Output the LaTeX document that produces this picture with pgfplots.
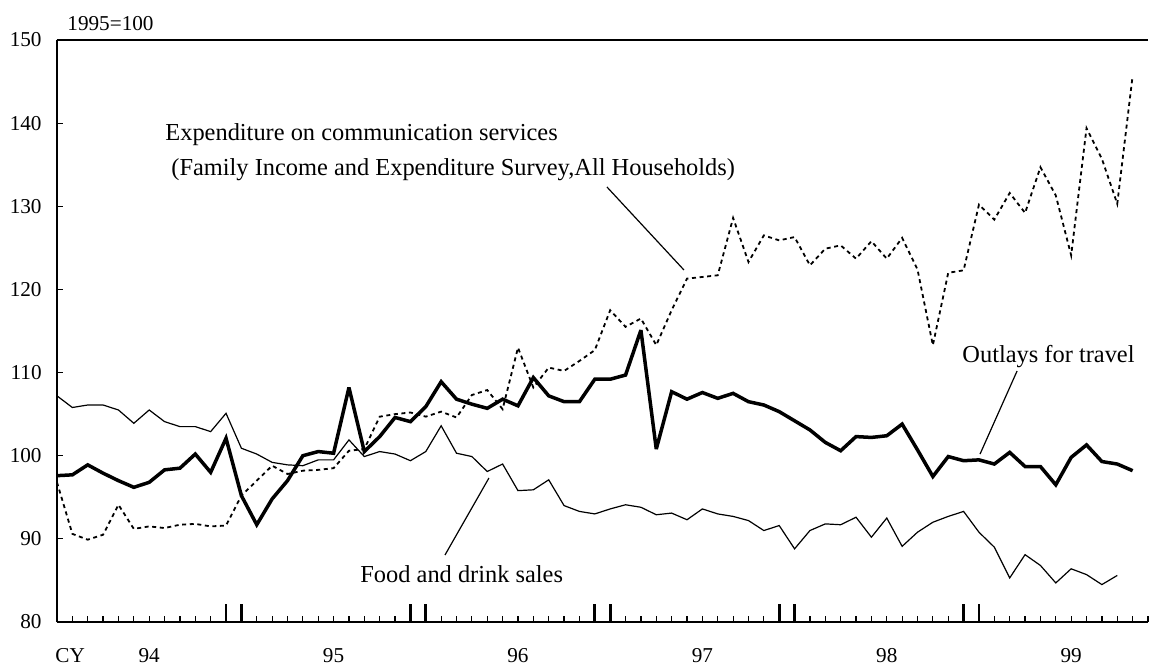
\documentclass[border=0pt]{standalone}
\usepackage{fontspec}
\setmainfont{Liberation Serif}
\usepackage{pgfplots}
\usepackage{pgfplotstable}
\pgfplotsset{compat=1.18}

\pgfplotstableread{
m v
0 97.6
1 97.7
2 98.9
3 97.9
4 97.0
5 96.2
6 96.8
7 98.3
8 98.5
9 100.2
10 98.0
11 102.1
12 95.2
13 91.7
14 94.8
15 97.0
16 100.0
17 100.5
18 100.3
19 108.2
20 100.5
21 102.3
22 104.6
23 104.1
24 105.9
25 108.9
26 106.8
27 106.2
28 105.7
29 106.8
30 106.0
31 109.4
32 107.2
33 106.5
34 106.5
35 109.2
36 109.2
37 109.7
38 115.1
39 100.8
40 107.7
41 106.8
42 107.6
43 106.9
44 107.5
45 106.5
46 106.1
47 105.3
48 104.2
49 103.1
50 101.6
51 100.6
52 102.3
53 102.2
54 102.4
55 103.8
56 100.7
57 97.5
58 99.9
59 99.4
60 99.5
61 99.0
62 100.4
63 98.7
64 98.7
65 96.5
66 99.8
67 101.3
68 99.3
69 99.0
70 98.2
}\travel

\pgfplotstableread{
m v
0 107.2
1 105.8
2 106.1
3 106.1
4 105.5
5 103.9
6 105.5
7 104.1
8 103.5
9 103.5
10 102.9
11 105.1
12 100.9
13 100.2
14 99.2
15 98.9
16 98.8
17 99.5
18 99.5
19 101.9
20 99.9
21 100.5
22 100.2
23 99.4
24 100.5
25 103.6
26 100.3
27 99.9
28 98.1
29 99.0
30 95.8
31 95.9
32 97.1
33 94.0
34 93.3
35 93.0
36 93.6
37 94.1
38 93.8
39 92.9
40 93.1
41 92.3
42 93.6
43 93.0
44 92.7
45 92.2
46 91.0
47 91.6
48 88.8
49 91.0
50 91.8
51 91.7
52 92.6
53 90.2
54 92.5
55 89.1
56 90.8
57 92.0
58 92.7
59 93.3
60 90.8
61 89.0
62 85.3
63 88.1
64 86.8
65 84.7
66 86.4
67 85.7
68 84.5
69 85.6
}\food

\pgfplotstableread{
m v
0 96.8
1 90.6
2 89.9
3 90.5
4 94.1
5 91.2
6 91.5
7 91.3
8 91.7
9 91.8
10 91.5
11 91.6
12 95.2
13 97.0
14 98.8
15 97.8
16 98.2
17 98.3
18 98.5
19 100.6
20 100.8
21 104.7
22 105.0
23 105.2
24 104.7
25 105.3
26 104.6
27 107.3
28 107.9
29 105.6
30 113.0
31 108.2
32 110.6
33 110.2
34 111.4
35 112.7
36 117.5
37 115.5
38 116.5
39 113.3
40 117.5
41 121.3
42 121.5
43 121.7
44 128.6
45 123.3
46 126.5
47 125.9
48 126.3
49 122.9
50 124.9
51 125.3
52 123.7
53 125.8
54 123.7
55 126.2
56 122.4
57 113.3
58 122.0
59 122.3
60 130.2
61 128.4
62 131.6
63 129.2
64 134.7
65 131.3
66 124.1
67 139.4
68 135.7
69 130.3
70 145.7
}\comm

\begin{document}
\begin{tikzpicture}
\begin{axis}[
  at={(0,0)}, anchor=south west,
  scale only axis, width=545.5pt, height=291pt,
  xmin=0, xmax=71, ymin=80, ymax=150,
  clip=false,
  axis x line*=bottom, axis y line*=left,
  axis line style={line width=1.2pt, black},
  tick align=inside,
  major tick length=3.2pt, minor tick length=3.2pt,
  every tick/.style={black, line width=0.6pt},
  ytick={80,90,...,150},
  xtick={6,18,30,42,54,66},
  xticklabels={94,95,96,97,98,99},
  minor xtick={0,...,71},
  extra x ticks={11,12,23,24,35,36,47,48,59,60},
  extra x tick labels={},
  extra tick style={major tick length=9pt, every tick/.style={black, line width=1.4pt}},
  /pgf/number format/assume math mode=true,
  ticklabel style={font=\fontsize{10.6}{12}\selectfont},
  yticklabel style={anchor=east, inner sep=0pt, xshift=-7.5pt},
  xticklabel style={anchor=base, inner sep=0pt, yshift=-20pt},
]
\draw[line width=1.2pt] (rel axis cs:0,1) -- (rel axis cs:1,1);

\addplot[black, line width=0.6pt] table[x=m,y=v] {\food};
\addplot[black, line width=0.9pt, dash pattern=on 2pt off 1.8pt] table[x=m,y=v] {\comm};
\addplot[black, line width=1.75pt, line join=miter, miter limit=3] table[x=m,y=v] {\travel};

\node[anchor=base west, inner sep=0pt, font=\fontsize{10.6}{12}\selectfont] at (rel axis cs:0,1) [xshift=5pt, yshift=5pt] {1995=100};
\node[anchor=base west, inner sep=0pt, font=\fontsize{10.6}{12}\selectfont] at (axis cs:0,80) [xshift=-1pt, yshift=-20pt] {CY};

\node[anchor=base west, inner sep=0pt, font=\fontsize{12.2}{14}\selectfont] at (axis cs:7.03,137.97) {Expenditure on communication services};
\node[anchor=base west, inner sep=0pt, font=\fontsize{12.2}{14}\selectfont] at (axis cs:7.42,133.76) {(Family Income and Expenditure Survey,All Households)};
\draw[line width=0.6pt] (axis cs:35.79,132.32) -- (axis cs:40.80,122.34);

\node[anchor=base west, inner sep=0pt, font=\fontsize{12.2}{14}\selectfont] at (axis cs:19.72,84.81) {Food and drink sales};
\draw[line width=0.6pt] (axis cs:25.25,88.06) -- (axis cs:28.11,97.32);

\node[anchor=base west, inner sep=0pt, font=\fontsize{12.2}{14}\selectfont] at (axis cs:58.90,111.27) {Outlays for travel};
\draw[line width=0.6pt] (axis cs:62.48,110.19) -- (axis cs:60.07,100.2);
\end{axis}
\pgfresetboundingbox
\path (-28.5pt,-21pt) rectangle (546pt,311pt);
\end{tikzpicture}
\end{document}
